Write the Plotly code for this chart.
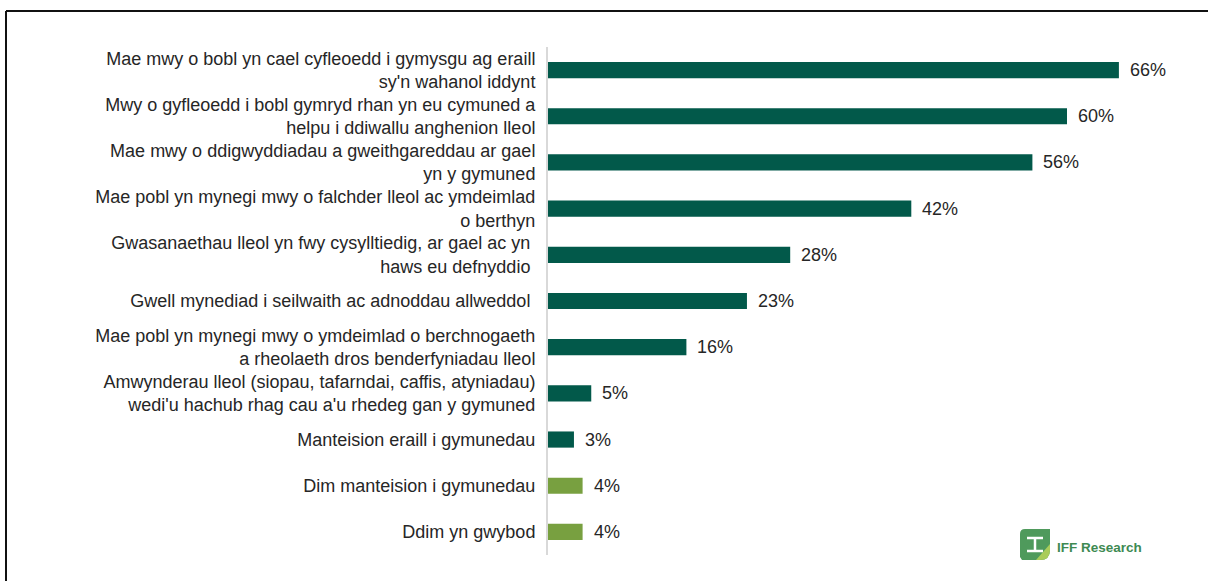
import plotly.graph_objects as go

categories = [
    "Mae mwy o bobl yn cael cyfleoedd i gymysgu ag eraill<br>sy'n wahanol iddynt",
    "Mwy o gyfleoedd i bobl gymryd rhan yn eu cymuned a<br>helpu i ddiwallu anghenion lleol",
    "Mae mwy o ddigwyddiadau a gweithgareddau ar gael<br>yn y gymuned",
    "Mae pobl yn mynegi mwy o falchder lleol ac ymdeimlad<br>o berthyn",
    "Gwasanaethau lleol yn fwy cysylltiedig, ar gael ac yn <br>haws eu defnyddio ",
    "Gwell mynediad i seilwaith ac adnoddau allweddol ",
    "Mae pobl yn mynegi mwy o ymdeimlad o berchnogaeth<br>a rheolaeth dros benderfyniadau lleol",
    "Amwynderau lleol (siopau, tafarndai, caffis, atyniadau)<br>wedi'u hachub rhag cau a'u rhedeg gan y gymuned",
    "Manteision eraill i gymunedau",
    "Dim manteision i gymunedau",
    "Ddim yn gwybod",
]
values = [66, 60, 56, 42, 28, 23, 16, 5, 3, 4, 4]
groups = ["benefit"] * 9 + ["other"] * 2

DARK = "#02594A"
LIGHT = "#78A040"
colors = [DARK if g == "benefit" else LIGHT for g in groups]
TEXT = "#262626"
FS = 18

W, H = 1208, 581
ML, MR, MT, MB = 548, 18, 47, 26
PW, PH = W - ML - MR, H - MT - MB


def px(x):
    # screen pixel -> paper x
    return (x - ML) / PW


def py(y):
    # screen pixel -> paper y
    return 1 - (y - MT) / PH


fig = go.Figure(go.Bar(
    x=values,
    y=categories,
    orientation="h",
    marker=dict(color=colors, line=dict(width=0)),
    hoverinfo="skip",
))

# value labels beside each bar
for cat, v in zip(categories, values):
    fig.add_annotation(
        x=v, y=cat, text=f"{v}%", showarrow=False,
        xanchor="left", yanchor="middle", xshift=9,
        font=dict(size=FS, color=TEXT),
    )

# outer frame (only top and left edges fall inside the picture)
frame = dict(color="#111111", width=2)
fig.add_shape(type="line", xref="paper", yref="paper",
              x0=px(6), x1=px(1250), y0=py(11), y1=py(11), line=frame)
fig.add_shape(type="line", xref="paper", yref="paper",
              x0=px(6), x1=px(6), y0=py(620), y1=py(11), line=frame)

# IFF Research logo
fig.add_shape(type="path", xref="paper", yref="paper",
              path=(f"M {px(1025)} {py(529)} L {px(1050)} {py(529)} "
                    f"L {px(1050)} {py(550)} Q {px(1050)} {py(560)} {px(1040)} {py(560)} "
                    f"L {px(1022)} {py(560)} L {px(1020)} {py(557)} "
                    f"L {px(1020)} {py(534)} Q {px(1020)} {py(529)} {px(1025)} {py(529)} Z"),
              fillcolor="#4F9A5C", line=dict(width=0))
fig.add_shape(type="path", xref="paper", yref="paper",
              path=(f"M {px(1040)} {py(560)} Q {px(1050)} {py(560)} {px(1050)} {py(550)} "
                    f"L {px(1050)} {py(544)} L {px(1036)} {py(560)} Z"),
              fillcolor="#A9CC5A", line=dict(width=0))
white = dict(color="white", width=2.5)
fig.add_shape(type="line", xref="paper", yref="paper",
              x0=px(1027), x1=px(1043), y0=py(538), y1=py(538), line=white)
fig.add_shape(type="line", xref="paper", yref="paper",
              x0=px(1035), x1=px(1035), y0=py(538), y1=py(551), line=white)
fig.add_shape(type="line", xref="paper", yref="paper",
              x0=px(1027), x1=px(1043), y0=py(551), y1=py(551), line=white)
fig.add_annotation(xref="paper", yref="paper", x=px(1055), y=py(547),
                   xanchor="left", yanchor="middle",
                   text="<b>IFF Research</b>", showarrow=False,
                   font=dict(size=13.5, color="#3E8A52", family="Liberation Sans"))

fig.update_layout(
    width=W, height=H,
    margin=dict(l=ML, r=MR, t=MT, b=MB),
    paper_bgcolor="white",
    plot_bgcolor="white",
    bargap=0.65,
    showlegend=False,
    font=dict(family="Liberation Sans, Arial, sans-serif", size=FS, color=TEXT),
    xaxis=dict(range=[0, PW / 8.65], visible=False, fixedrange=True),
    yaxis=dict(
        autorange="reversed",
        showgrid=False,
        showline=True,
        linecolor="#D9D9D9",
        linewidth=2,
        ticks="",
        ticklabelstandoff=7,
        tickfont=dict(size=FS, color=TEXT),
        fixedrange=True,
    ),
)

fig.write_html("out.html", config={"displayModeBar": False},
               post_script="document.body.style.margin='0';")
